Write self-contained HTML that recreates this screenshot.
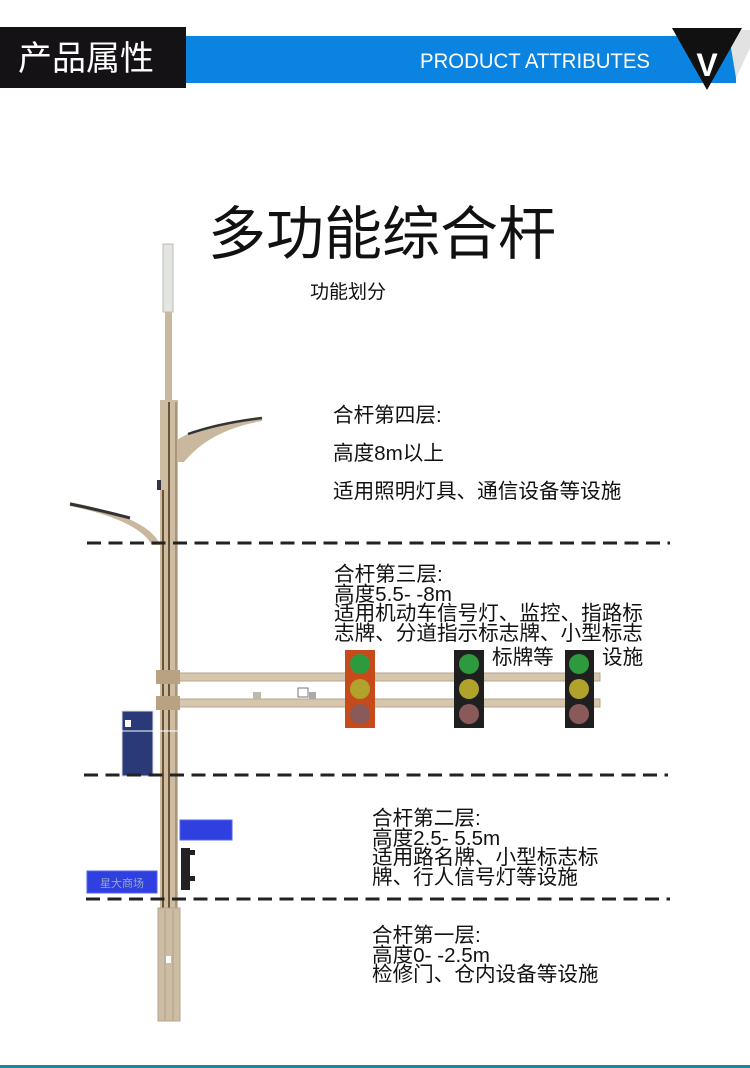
<!DOCTYPE html>
<html><head><meta charset="utf-8"><style>
body{margin:0;width:750px;height:1068px;background:#fff;overflow:hidden;position:relative;font-family:"Liberation Sans","Noto Sans CJK SC",sans-serif;}
.t{position:absolute;color:#111;font-size:20.6px;line-height:19.5px;white-space:nowrap;}
</style></head><body>
<svg width="750" height="1068" style="position:absolute;left:0;top:0">
<rect x="186" y="36" width="550" height="47" fill="#0a84e0"/>
<polygon points="728,30 750,30 750,48 736,78" fill="#e2e2e2"/>
<rect x="0" y="27" width="186" height="61" fill="#141214"/>
<polygon points="672,28 742,28 707,90" fill="#111"/>
<text x="707" y="76" font-family="Liberation Sans" font-weight="bold" font-size="32" fill="#fff" text-anchor="middle">V</text>
<text x="535" y="68" font-family="Liberation Sans" font-size="21" fill="#fff" text-anchor="middle" textLength="230" lengthAdjust="spacingAndGlyphs">PRODUCT ATTRIBUTES</text>
<text x="18" y="70" font-family="Liberation Sans,Noto Sans CJK SC,sans-serif" font-size="34" fill="#fff">产品属性</text>
<path d="M177,440 Q200,424 262,417 L262,421 Q210,430 184,462 L178,462 Z" fill="#c9b89e"/>
<path d="M188,434 Q220,423 262,418" stroke="#333" stroke-width="2.5" fill="none"/>
<path d="M160,545 Q150,518 70,502 L70,506 Q138,520 152,545 Z" fill="#c9b89e"/>
<path d="M70,504 Q100,510 130,518" stroke="#333" stroke-width="3" fill="none"/>
<rect x="163" y="244" width="10" height="68" fill="#e3e5e0" stroke="#bbb"/>
<rect x="165" y="312" width="7" height="90" fill="#c9b89e"/>
<rect x="160" y="400" width="18" height="510" fill="#cdbca2"/>
<rect x="162" y="490" width="2" height="420" fill="#6b5434"/>
<rect x="168" y="402" width="2" height="508" fill="#6b5434"/>
<rect x="175" y="402" width="2" height="508" fill="#a8957a"/>
<rect x="158" y="908" width="22" height="113" fill="#cbbca3" stroke="#b5a58b"/>
<line x1="165" y1="910" x2="165" y2="1020" stroke="#b09f84"/>
<line x1="173" y1="910" x2="173" y2="1020" stroke="#b09f84"/>
<rect x="166" y="956" width="5" height="7" fill="#fff"/>
<rect x="157" y="480" width="4" height="10" fill="#334"/>
<rect x="178" y="673" width="422" height="8" fill="#d6c6ad" stroke="#b5a58b"/>
<rect x="178" y="699" width="422" height="8" fill="#d6c6ad" stroke="#b5a58b"/>
<rect x="156" y="670" width="24" height="14" fill="#b8a283"/>
<rect x="156" y="696" width="24" height="14" fill="#b8a283"/>
<rect x="253" y="692" width="8" height="8" fill="#bba"/>
<rect x="298" y="688" width="10" height="9" fill="#fff" stroke="#777"/>
<rect x="309" y="692" width="7" height="7" fill="#aaa"/>
<rect x="122" y="711" width="31" height="65" fill="#2a3a78" stroke="#ddd"/>
<rect x="125" y="720" width="6" height="7" fill="#fff"/>
<line x1="120" y1="731" x2="178" y2="731" stroke="#fff"/>
<rect x="345" y="650" width="30" height="78" fill="#c74a1b"/>
<circle cx="360" cy="664" r="10" fill="#2e9a3e"/><circle cx="360" cy="689" r="10" fill="#b0a22a"/><circle cx="360" cy="714" r="10" fill="#8a5a5a"/>
<rect x="454" y="650" width="30" height="78" fill="#1f1f1f"/>
<circle cx="469" cy="664" r="10" fill="#2e9a3e"/><circle cx="469" cy="689" r="10" fill="#b0a22a"/><circle cx="469" cy="714" r="10" fill="#8a5a5a"/>
<rect x="565" y="650" width="29" height="78" fill="#1f1f1f"/>
<circle cx="579" cy="664" r="10" fill="#2e9a3e"/><circle cx="579" cy="689" r="10" fill="#b0a22a"/><circle cx="579" cy="714" r="10" fill="#8a5a5a"/>
<rect x="180" y="820" width="52" height="20" fill="#2f3fe0" stroke="#5566ee"/>
<rect x="87" y="871" width="70" height="22" fill="#2f3fe0" stroke="#5566ee"/>
<text x="122" y="887" font-size="11" fill="#9ab" text-anchor="middle" font-family="Noto Sans CJK SC,sans-serif">星大商场</text>
<rect x="181" y="848" width="9" height="42" fill="#222"/>
<rect x="181" y="850" width="14" height="5" fill="#222"/>
<rect x="181" y="876" width="14" height="5" fill="#222"/>
<g stroke="#222" stroke-width="3" stroke-dasharray="14,7.5">
<line x1="87" y1="543" x2="670" y2="543"/>
<line x1="84" y1="775" x2="668" y2="775"/>
<line x1="86" y1="899" x2="670" y2="899"/>
</g>
<rect x="0" y="1065" width="750" height="3" fill="#1a8a9a"/>
</svg>
<div class="t" style="left:208px;top:202px;font-size:58px;line-height:66px;">多功能综合杆</div>
<div class="t" style="left:310px;top:283px;font-size:19px;">功能划分</div>
<div class="t" style="left:333px;top:406px;">合杆第四层:</div>
<div class="t" style="left:333px;top:444px;">高度8m以上</div>
<div class="t" style="left:333px;top:482px;">适用照明灯具、通信设备等设施</div>
<div class="t" style="left:334px;top:565px;">合杆第三层:<br>高度5.5- -8m<br>适用机动车信号灯、监控、指路标<br>志牌、分道指示标志牌、小型标志</div>
<div class="t" style="left:492px;top:648px;">标牌等</div>
<div class="t" style="left:602px;top:648px;">设施</div>
<div class="t" style="left:372px;top:809px;">合杆第二层:<br>高度2.5- 5.5m<br>适用路名牌、小型标志标<br>牌、行人信号灯等设施</div>
<div class="t" style="left:372px;top:926px;">合杆第一层:<br>高度0- -2.5m<br>检修门、仓内设备等设施</div>
</body></html>
